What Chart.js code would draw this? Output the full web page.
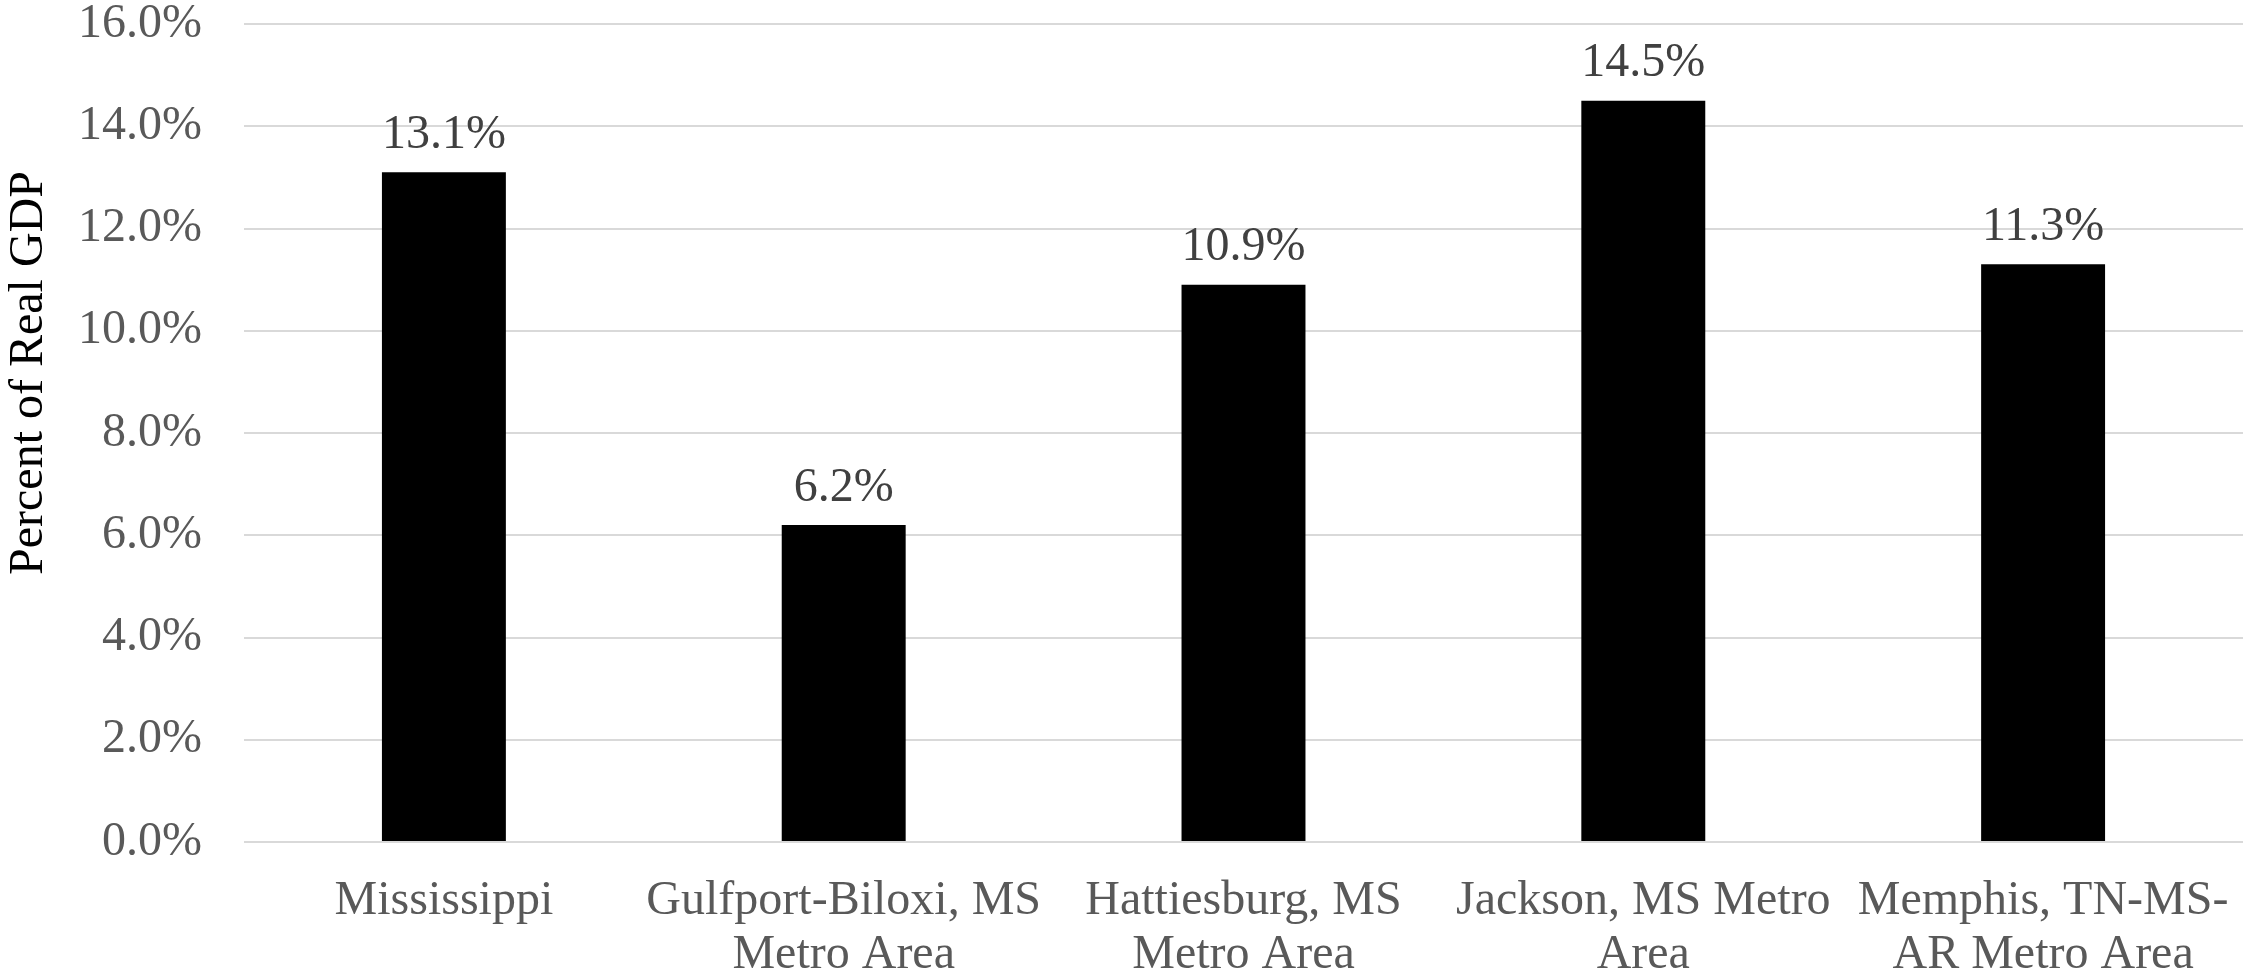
<!DOCTYPE html>
<html>
<head>
<meta charset="utf-8">
<script src="https://cdn.jsdelivr.net/npm/chart.js@4/dist/chart.umd.min.js"></script>
<style>
  html, body { margin: 0; padding: 0; background: #fff; }
  #wrap { width: 2254px; height: 973px; }
</style>
</head>
<body>
<div id="wrap"><canvas id="grafico"></canvas></div>
<script>
// Dados
const categorias = [
  'Mississippi',
  ['Gulfport-Biloxi, MS', 'Metro Area'],
  ['Hattiesburg, MS', 'Metro Area'],
  ['Jackson, MS Metro', 'Area'],
  ['Memphis, TN-MS-', 'AR Metro Area']
];
const valores = [13.1, 6.2, 10.9, 14.5, 11.3];
const tituloEixoY = 'Percent of Real GDP';

const fonte = "'Liberation Serif', 'Times New Roman', serif";

// Rótulos acima das barras
const rotulosBarras = {
  id: 'rotulosBarras',
  afterDatasetsDraw(chart) {
    const ctx = chart.ctx;
    const meta = chart.getDatasetMeta(0);
    ctx.save();
    ctx.font = '48px ' + fonte;
    ctx.fillStyle = '#404040';
    ctx.textAlign = 'center';
    ctx.textBaseline = 'middle';
    meta.data.forEach((bar, i) => {
      ctx.fillText(valores[i].toFixed(1) + '%', bar.x, bar.y - 37);
    });
    ctx.restore();
  }
};

// Título do eixo Y (um pouco acima do centro, como no original)
const tituloY = {
  id: 'tituloY',
  afterDraw(chart) {
    const ctx = chart.ctx;
    ctx.save();
    ctx.translate(42, 373);
    ctx.rotate(-Math.PI / 2);
    ctx.font = '48px ' + fonte;
    ctx.fillStyle = '#000000';
    ctx.textAlign = 'center';
    ctx.textBaseline = 'alphabetic';
    ctx.fillText(tituloEixoY, 0, 0);
    ctx.restore();
  }
};

const ctx = document.getElementById('grafico').getContext('2d');
new Chart(ctx, {
  type: 'bar',
  data: {
    labels: categorias,
    datasets: [{
      data: valores,
      backgroundColor: '#000000',
      categoryPercentage: 1,
      barPercentage: 0.31
    }]
  },
  plugins: [rotulosBarras, tituloY],
  options: {
    responsive: true,
    maintainAspectRatio: false,
    animation: false,
    layout: { padding: { top: 0, right: 11, left: 0, bottom: 0 } },
    plugins: {
      legend: { display: false },
      tooltip: { enabled: false }
    },
    scales: {
      x: {
        grid: { display: false },
        border: { display: false },
        ticks: {
          color: '#595959',
          font: { family: fonte, size: 48, lineHeight: 1.13 },
          padding: 24,
          maxRotation: 0,
          autoSkip: false
        },
        afterFit(scale) { scale.height = 131; }
      },
      y: {
        min: 0,
        max: 16,
        ticks: {
          stepSize: 2,
          color: '#595959',
          font: { family: fonte, size: 48, lineHeight: 1.0 },
          padding: 0,
          callback: v => v.toFixed(1) + '%'
        },
        grid: {
          color: '#d9d9d9',
          lineWidth: 2,
          drawTicks: true,
          tickLength: 42,
          tickColor: 'rgba(0,0,0,0)'
        },
        border: { display: false },
        afterFit(scale) { scale.width = 244; }
      }
    }
  }
});
</script>
</body>
</html>
